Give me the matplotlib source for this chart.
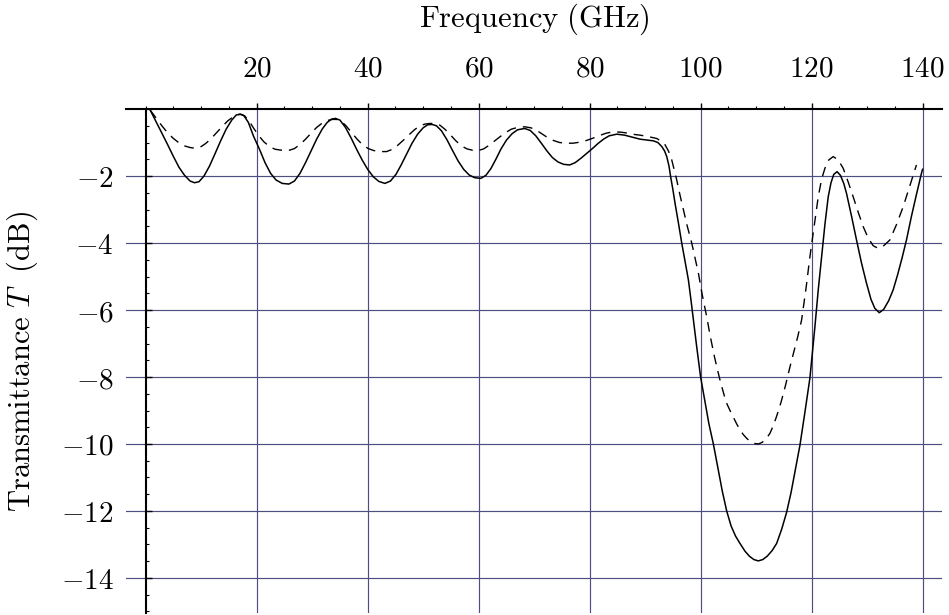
import matplotlib
matplotlib.use('Agg')
import matplotlib.pyplot as plt
from matplotlib.ticker import MultipleLocator

plt.rcParams['mathtext.fontset'] = 'cm'
plt.rcParams['font.family'] = 'serif'
plt.rcParams['font.serif'] = ['DejaVu Serif']

# Solid curve (frequency in GHz, transmittance in dB)
freq_solid = [0.8, 2, 3, 4, 5, 6, 7, 8, 8.8, 9.6, 10.5, 11.5, 12.5, 13.5, 14.5, 15.5, 16.3, 17,
              17.7, 18.5, 19.4, 20.5, 21.5, 22.5, 23.5, 24.6, 25.8, 26.8, 27.8, 28.8, 29.8, 30.8,
              31.8, 32.7, 33.5, 34.2, 35, 36, 37, 38, 39, 40, 41, 42, 43.1, 44.1, 45.1, 46, 47, 48,
              49, 50, 50.8, 51.6, 52.4, 53.3, 54.3, 55.3, 56.3, 57.3, 58.3, 59.3, 60.4, 61.3, 62.2,
              63.1, 64, 65, 66, 67, 68.3, 69.3, 70.3, 71.3, 72.3, 73.3, 74.3, 75.3, 76.4, 77.4,
              78.5, 79.5, 80.5, 81.5, 82.5, 83.5, 84.9, 86.3, 87.7, 89.1, 90.5, 91.5, 92.3, 93.0,
              93.5, 93.9, 94.3, 94.6, 95.0, 95.4, 96.0, 96.6, 97.2, 97.8, 98.3, 98.7, 99.3, 100,
              100.8, 101.5, 102.3, 103.1, 103.9, 104.7, 105.5, 106.3, 107.1, 108, 108.8, 109.6,
              110.4, 111.2, 112, 112.9, 113.7, 114.6, 115.5, 116.3, 117.1, 117.9, 118.8, 119.7,
              120.6, 121.2, 121.8, 122.4, 123.0, 123.5, 124.0, 124.6, 125.2, 125.8, 126.3, 127.2,
              128.1, 129.0, 129.9, 130.7, 131.4, 132.2, 133.0, 133.9, 134.7, 135.5, 136.3, 137.1,
              138.0, 138.9, 139.8, 140]
T_solid = [-0.03, -0.42, -0.75, -1.08, -1.42, -1.74, -1.98, -2.15, -2.2, -2.17, -2.0, -1.7, -1.33,
           -0.95, -0.6, -0.33, -0.18, -0.15, -0.2, -0.4, -0.8, -1.2, -1.6, -1.92, -2.12, -2.22,
           -2.24, -2.15, -1.92, -1.6, -1.25, -0.9, -0.6, -0.4, -0.3, -0.28, -0.33, -0.55, -0.86,
           -1.2, -1.52, -1.8, -2.02, -2.16, -2.22, -2.15, -1.95, -1.68, -1.35, -1.02, -0.75,
           -0.56, -0.47, -0.46, -0.5, -0.65, -0.92, -1.24, -1.55, -1.8, -1.97, -2.05, -2.07,
           -1.98, -1.78, -1.5, -1.2, -0.93, -0.74, -0.62, -0.58, -0.64, -0.8, -1.02, -1.25,
           -1.45, -1.58, -1.65, -1.67, -1.6, -1.46, -1.32, -1.18, -1.03, -0.9, -0.8, -0.75,
           -0.78, -0.84, -0.9, -0.93, -0.95, -1.0, -1.12, -1.25, -1.42, -1.7, -2.02, -2.4, -2.82,
           -3.4, -4.0, -4.55, -5.1, -5.75, -6.3, -7.1, -8.0, -8.75, -9.4, -10.0, -10.7, -11.4,
           -12.0, -12.45, -12.75, -12.97, -13.2, -13.35, -13.45, -13.49, -13.45, -13.35, -13.18,
           -12.97, -12.55, -12.04, -11.45, -10.75, -10.04, -9.05, -8.03, -6.5, -5.4, -4.41,
           -3.45, -2.62, -2.2, -1.95, -1.87, -1.98, -2.22, -2.52, -3.2, -3.91, -4.6, -5.2, -5.68,
           -5.95, -6.08, -5.98, -5.72, -5.4, -4.95, -4.45, -3.91, -3.2, -2.55, -1.92, -1.8]

# Dashed curve
freq_dash = [0.8, 2, 3, 4, 5, 6, 7, 8, 8.9, 9.8, 10.8, 11.8, 12.8, 13.8, 14.8, 15.8, 16.6, 17.2,
             17.8, 18.6, 19.4, 20.3, 21.3, 22.3, 23.3, 24.5, 25.7, 26.8, 27.8, 28.8, 29.8, 30.8,
             31.8, 32.8, 33.6, 34.4, 35.2, 36.1, 37.1, 38.1, 39.1, 40.1, 41.1, 42.2, 43.4, 44.5,
             45.5, 46.5, 47.5, 48.5, 49.4, 50.3, 51.2, 52.1, 53, 53.9, 54.9, 55.9, 56.9, 57.9,
             58.9, 59.9, 60.9, 61.9, 62.9, 63.9, 64.9, 65.9, 67, 68.3, 69.4, 70.4, 71.4, 72.4,
             73.5, 74.6, 75.8, 77, 78.2, 79.4, 80.6, 81.8, 83, 84.3, 85.6, 86.9, 88.1, 89.1,
             90.5, 91.6, 92.1, 93.0, 93.6, 94.2, 94.8, 95.7, 96.3, 96.9, 97.6, 98.4, 99.0, 99.6,
             100.3, 101.1, 101.7, 102.5, 103.4, 104.0, 104.6, 105.3, 105.9, 106.5, 107.1, 107.7,
             108.3, 108.9, 109.6, 110.4, 111.1, 111.8, 112.5, 113.1, 113.6, 114.1, 114.6, 115.3,
             116.1, 116.8, 117.5, 118.2, 119.0, 119.7, 120.5, 121.2, 121.8, 122.4, 123.1, 123.9,
             124.8, 125.7, 126.6, 127.5, 128.4, 129.3, 130.2, 131.1, 132.0, 133.0, 134.1, 135.3,
             136.5, 137.7, 138.9]
T_dash = [-0.03, -0.3, -0.52, -0.72, -0.88, -1.01, -1.1, -1.15, -1.17, -1.14, -1.03, -0.88, -0.7,
          -0.52, -0.35, -0.23, -0.17, -0.16, -0.2, -0.35, -0.56, -0.78, -0.98, -1.12, -1.2, -1.23,
          -1.24, -1.18, -1.06, -0.9, -0.72, -0.55, -0.42, -0.34, -0.31, -0.31, -0.36, -0.5, -0.7,
          -0.9, -1.07, -1.18, -1.24, -1.27, -1.27, -1.2, -1.07, -0.92, -0.76, -0.61, -0.5, -0.45,
          -0.43, -0.43, -0.48, -0.6, -0.77, -0.95, -1.1, -1.19, -1.23, -1.24, -1.19, -1.08,
          -0.95, -0.82, -0.7, -0.6, -0.55, -0.53, -0.56, -0.63, -0.74, -0.85, -0.94, -1.0, -1.02,
          -1.02, -0.99, -0.94, -0.87, -0.79, -0.72, -0.68, -0.69, -0.72, -0.76, -0.78, -0.82,
          -0.86, -0.88, -0.97, -1.07, -1.25, -1.52, -2.12, -2.58, -3.01, -3.5, -4.0, -4.45,
          -4.9, -5.55, -6.2, -6.75, -7.4, -8.03, -8.4, -8.75, -9.0, -9.2, -9.4, -9.58, -9.72,
          -9.83, -9.92, -9.98, -10.0, -9.95, -9.85, -9.68, -9.45, -9.22, -8.97, -8.69, -8.25,
          -7.7, -7.25, -6.8, -6.3, -5.35, -4.41, -3.45, -2.62, -2.1, -1.77, -1.52, -1.42, -1.52,
          -1.77, -2.18, -2.62, -3.08, -3.51, -3.85, -4.08, -4.16, -4.08, -3.91, -3.45, -2.92,
          -2.3, -1.67]

xticks = [20, 40, 60, 80, 100, 120, 140]
xticklabels = [r'$20$', r'$40$', r'$60$', r'$80$', r'$100$', r'$120$', r'$140$']
yticks = [-2, -4, -6, -8, -10, -12, -14]
yticklabels = [r'$-2$', r'$-4$', r'$-6$', r'$-8$', r'$-10$', r'$-12$', r'$-14$']

fig = plt.figure(figsize=(9.49, 6.15), dpi=100)
ax = fig.add_axes([0.1328, 0.003, 0.8598, 0.8197])

grid_col = '#4e4e80'
for xv in xticks:
    ax.axvline(xv, color=grid_col, lw=0.85, zorder=1)
for yv in yticks:
    ax.axhline(yv, color=grid_col, lw=0.85, zorder=1)

ax.plot(freq_solid, T_solid, color='black', lw=1.1, zorder=3, solid_joinstyle='round')
ax.plot(freq_dash, T_dash, color='black', lw=1.0, linestyle=(0, (7, 5)), zorder=3)

ax.set_xlim(-3.55, 143.5)
ax.set_ylim(-15.05, 0)

ax.spines['right'].set_visible(False)
ax.spines['bottom'].set_visible(False)
ax.spines['left'].set_position(('data', 0))
ax.spines['left'].set_linewidth(1.5)
ax.spines['top'].set_linewidth(1.5)

ax.xaxis.tick_top()
ax.xaxis.set_label_position('top')
ax.set_xticks(xticks)
ax.set_xticklabels(xticklabels)
ax.xaxis.set_minor_locator(MultipleLocator(5))
ax.tick_params(axis='x', which='major', direction='out', length=4, width=1, pad=15, labelsize=21)
ax.tick_params(axis='x', which='minor', direction='out', length=2.3, width=0.8)

ax.set_yticks(yticks)
ax.set_yticklabels(yticklabels)
ax.yaxis.set_minor_locator(MultipleLocator(0.5))
ax.tick_params(axis='y', which='major', direction='in', length=4, width=1, pad=23, labelsize=21)
ax.tick_params(axis='y', which='minor', direction='in', length=2.2, width=0.8)

ax.set_xlabel(r'$\mathrm{Frequency\ (GHz)}$', fontsize=22, labelpad=20)
ax.set_ylabel(r'$\mathrm{Transmittance}\ T\ \ \mathrm{(dB)}$', fontsize=22)
ax.yaxis.set_label_coords(-0.105, 0.5)

fig.savefig('out.png', dpi=100)
